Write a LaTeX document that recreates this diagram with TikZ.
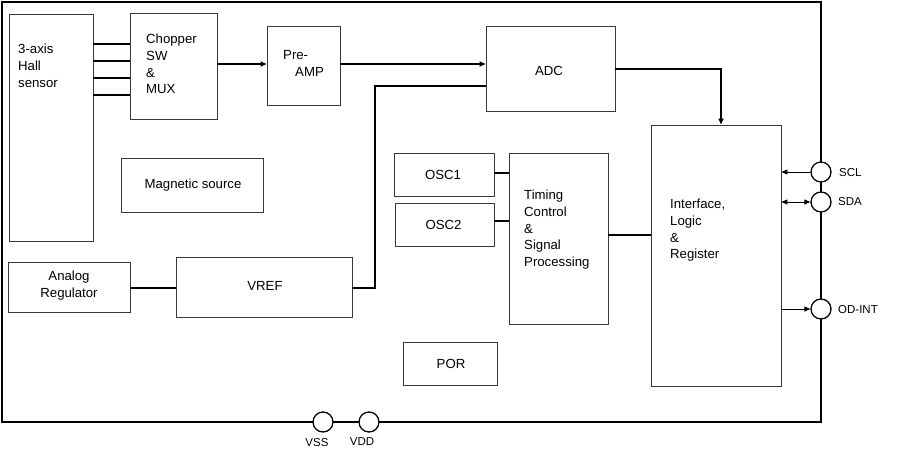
\documentclass[tikz,border=0pt]{standalone}
\usepackage{fontspec}
\setmainfont{Liberation Sans}
\usetikzlibrary{arrows.meta}
\begin{document}
\begin{tikzpicture}[x=1pt,y=-1pt,
  box/.style={draw=black!78,line width=0.9pt,fill=white,inner sep=0pt,minimum width=#1},
  txt/.style={inner sep=0pt,font=\fontsize{13.2}{16.6}\selectfont,align=left},
  ctxt/.style={inner sep=0pt,font=\fontsize{13.2}{16.6}\selectfont,align=center},
  wire/.style={draw=black,line width=1.5pt},
  arr/.style={wire,-{Triangle[length=6pt,width=5pt]}},
  pin/.style={circle,draw=black,line width=1.3pt,fill=white,minimum size=20pt,inner sep=0pt},
  frame/.style={draw=black,line width=1.5pt}]
\useasboundingbox (0,0) rectangle (900,458);
% outer frame
\draw[frame] (2,2) rectangle (821,422);
% boxes
\node[box=84pt,minimum height=227pt] (hall) at (51,127.5) {};
\node[box=87pt,minimum height=106pt] (chop) at (173.5,66) {};
\node[box=73pt,minimum height=79pt] (pre) at (303.5,65.5) {};
\node[box=129pt,minimum height=85pt] (adc) at (550.5,68.5) {};
\node[box=130pt,minimum height=261pt] (intf) at (716,255.5) {};
\node[box=142pt,minimum height=54pt] (mag) at (192,185) {};
\node[box=122pt,minimum height=50pt] (areg) at (69,287) {};
\node[box=176pt,minimum height=60pt] (vref) at (264,287) {};
\node[box=100pt,minimum height=43pt] (osc1) at (444,174.5) {};
\node[box=99pt,minimum height=43pt] (osc2) at (444.5,224.5) {};
\node[box=99pt,minimum height=171pt] (tim) at (558.5,238.5) {};
\node[box=94pt,minimum height=43pt] (por) at (450,363.5) {};
% texts
\node[txt,anchor=north west] (thall) at (18,44.2) {3-axis\\Hall\\sensor};
\node[txt,anchor=north west] (tchop) at (146,34.2) {Chopper\\SW\\\&\\MUX};
\node[txt,anchor=north west] (tpre) at (283,50.2) {Pre-\\\hspace*{12pt}AMP};
\node[ctxt] (tadc) at (549,71) {ADC};
\node[ctxt] (tmag) at (193,185) {Magnetic source};
\node[ctxt,anchor=north] (tareg) at (69,271.2) {Analog\\Regulator};
\node[ctxt] (tvref) at (265,286) {VREF};
\node[ctxt] (tosc1) at (443,175) {OSC1};
\node[ctxt] (tosc2) at (443.5,225) {OSC2};
\node[txt,anchor=north west] (ttim) at (524,190.2) {Timing\\Control\\\&\\Signal\\Processing};
\node[ctxt] (tpor) at (451,364) {POR};
\node[txt,anchor=north west] (tintf) at (670,199.2) {Interface,\\Logic\\\&\\Register};
% connectors
\foreach \yy in {44,61,78,95}
  \draw[wire] (hall.east |- 0,\yy) -- (chop.west |- 0,\yy);
\draw[arr] (chop.east |- 0,64) -- (pre.west |- 0,64);
\draw[arr] (pre.east |- 0,64) -- (adc.west |- 0,64);
\coordinate (adcturn) at (721,69);
\draw[arr] (adc.east |- adcturn) -- (adcturn) -- (intf.north -| adcturn);
\coordinate (vrefturnb) at (375,288);
\coordinate (vrefturnt) at (375,86);
\draw[wire] (vref.east |- vrefturnb) -- (vrefturnb) -- (vrefturnt) -- (adc.west |- vrefturnt);
\draw[wire] (areg.east |- 0,288) -- (vref.west |- 0,288);
\draw[wire] (osc1.east |- 0,173) -- (tim.west |- 0,173);
\draw[wire] (osc2.east |- 0,221) -- (tim.west |- 0,221);
\draw[wire] (tim.east |- 0,235) -- (intf.west |- 0,235);
% pins
\node[pin] (scl) at (821,172) {};
\node[pin] (sda) at (821,202) {};
\node[pin] (odint) at (821,309) {};
\node[pin] (vss) at (323,422) {};
\node[pin] (vdd) at (369,422) {};
\node[txt,anchor=west] (tscl) at (839,173) {\fontsize{11.5}{14}\selectfont SCL};
\node[txt,anchor=west] (tsda) at (838,202) {\fontsize{11.5}{14}\selectfont SDA};
\node[txt,anchor=west] (todint) at (838,310) {\fontsize{11.5}{14}\selectfont OD-INT};
\node[ctxt] (tvss) at (317,443) {\fontsize{11.5}{14}\selectfont VSS};
\node[ctxt] (tvdd) at (362,442) {\fontsize{11.5}{14}\selectfont VDD};
\draw[wire,line width=1pt,-{Triangle[length=6pt,width=5pt]}] (scl.west) -- (intf.east |- scl.west);
\draw[wire,line width=1pt,{Triangle[length=6pt,width=5pt]}-{Triangle[length=6pt,width=5pt]}] (intf.east |- sda.west) -- (sda.west);
\draw[wire,line width=1pt,-{Triangle[length=6pt,width=5pt]}] (intf.east |- odint.west) -- (odint.west);
\end{tikzpicture}
\end{document}
